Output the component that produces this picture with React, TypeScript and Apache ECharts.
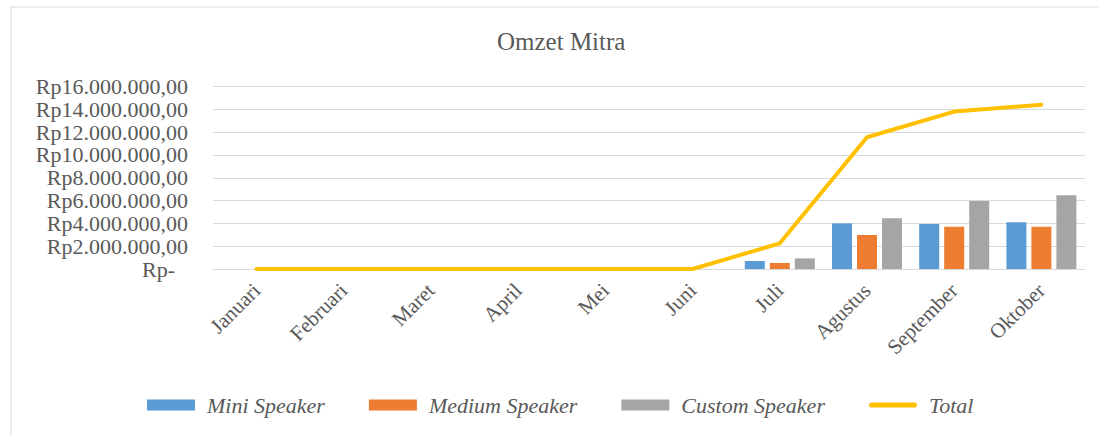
import React, { useEffect, useRef } from "react";
import * as echarts from "echarts";

const months = ["Januari", "Februari", "Maret", "April", "Mei", "Juni", "Juli", "Agustus", "September", "Oktober"];
const miniSpeaker = [0, 0, 0, 0, 0, 0, 700000, 4000000, 3950000, 4100000];
const mediumSpeaker = [0, 0, 0, 0, 0, 0, 530000, 2980000, 3710000, 3710000];
const customSpeaker = [0, 0, 0, 0, 0, 0, 930000, 4450000, 5960000, 6460000];
const total = [0, 0, 0, 0, 0, 0, 2250000, 11550000, 13800000, 14400000];

const FONT = '"Liberation Serif", "Times New Roman", serif';
const TXT = "#595959";

function fmtRp(v: number): string {
  if (v === 0) return "{z|Rp-}";
  const s = Math.round(v).toString().replace(/\B(?=(\d{3})+(?!\d))/g, ".");
  return "Rp" + s + ",00";
}

export default function App() {
  const ref = useRef<HTMLDivElement>(null);
  useEffect(() => {
    if (!ref.current) return;
    const chart = echarts.init(ref.current, null, { renderer: "svg" });
    chart.setOption({
      animation: false,
      backgroundColor: "#ffffff",
      title: {
        text: "Omzet Mitra",
        left: 492,
        top: 24,
        textStyle: { fontFamily: FONT, fontSize: 25, fontWeight: "normal", color: TXT },
      },
      graphic: [
        {
          type: "rect",
          shape: { x: 11, y: 7, width: 1100, height: 440 },
          style: { fill: "none", stroke: "#D9D9D9", lineWidth: 1 },
          silent: true,
        },
      ],
      grid: { left: 213, right: 14, top: 86.5, bottom: 167, containLabel: false },
      legend: {
        left: 142,
        top: 389,
        itemWidth: 48,
        itemHeight: 11,
        itemGap: 44,
        data: [
          { name: "Mini Speaker", icon: "rect" },
          { name: "Medium Speaker", icon: "rect" },
          { name: "Custom Speaker", icon: "rect" },
          { name: "Total", icon: "path://M2.5,0 L45.5,0 A2.5,2.5 0 0 1 45.5,5 L2.5,5 A2.5,2.5 0 0 1 2.5,0 Z" },
        ],
        textStyle: {
          fontFamily: FONT,
          fontSize: 22,
          fontStyle: "italic",
          color: TXT,
          padding: [0, 0, 0, 7],
        },
      },
      xAxis: {
        type: "category",
        data: months,
        axisLine: { lineStyle: { color: "#D9D9D9", width: 1 } },
        axisTick: { show: false },
        axisLabel: {
          rotate: 45,
          margin: 18,
          interval: 0,
          fontFamily: FONT,
          fontSize: 21,
          color: TXT,
        },
      },
      yAxis: {
        type: "value",
        min: 0,
        max: 16000000,
        interval: 2000000,
        axisLine: { show: false },
        axisTick: { show: false },
        splitLine: { lineStyle: { color: "#D9D9D9", width: 1 } },
        axisLabel: {
          margin: 25,
          fontFamily: FONT,
          fontSize: 22,
          color: TXT,
          formatter: fmtRp,
          rich: {
            z: { fontFamily: FONT, fontSize: 22, color: TXT, padding: [0, 13, 0, 0] },
          },
        },
      },
      series: [
        {
          name: "Mini Speaker",
          type: "bar",
          data: miniSpeaker,
          barWidth: 20,
          barGap: "25%",
          itemStyle: { color: "#5B9BD5" },
        },
        {
          name: "Medium Speaker",
          type: "bar",
          data: mediumSpeaker,
          barWidth: 20,
          barGap: "25%",
          itemStyle: { color: "#ED7D31" },
        },
        {
          name: "Custom Speaker",
          type: "bar",
          data: customSpeaker,
          barWidth: 20,
          barGap: "25%",
          itemStyle: { color: "#A5A5A5" },
        },
        {
          name: "Total",
          type: "line",
          data: total,
          symbol: "none",
          lineStyle: { color: "#FFC000", width: 4, cap: "round", join: "round" },
          itemStyle: { color: "#FFC000" },
        },
      ],
    });
    return () => chart.dispose();
  }, []);
  return (
    <div
      ref={ref}
      style={{ position: "fixed", left: 0, top: 0, width: 1099, height: 436 }}
    />
  );
}
